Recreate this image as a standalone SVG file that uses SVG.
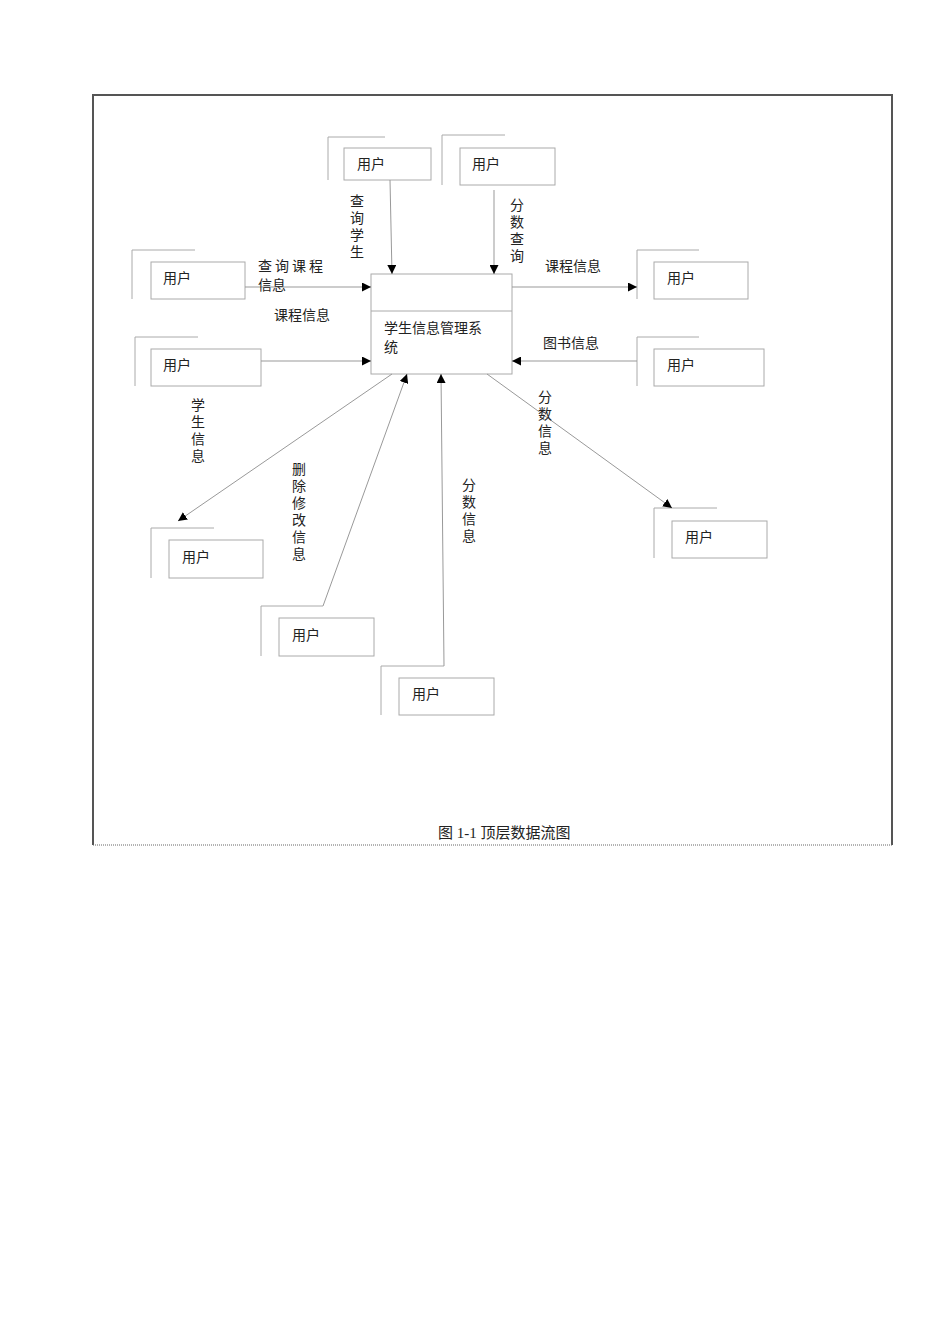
<svg xmlns="http://www.w3.org/2000/svg" width="950" height="1344" viewBox="0 0 950 1344">
<style>
.b{fill:#fff;stroke:#aaa;stroke-width:1}
.k{fill:none;stroke:#aaa;stroke-width:1}
.c{fill:none;stroke:#999;stroke-width:1;marker-end:url(#a)}
text{font-family:"Noto Sans CJK SC","Liberation Sans",sans-serif;font-size:14px;fill:#222}
.v{writing-mode:tb;letter-spacing:3px}
</style>
<defs><marker id="a" viewBox="0 0 10 10" refX="10" refY="5" markerWidth="9" markerHeight="9" markerUnits="userSpaceOnUse" orient="auto"><path d="M0 0L10 5L0 10z" fill="#000"/></marker></defs>
<rect width="950" height="1344" fill="#fff"/>
<path d="M93 845V95H892V845" fill="none" stroke="#555" stroke-width="2"/>
<line x1="93" y1="845" x2="892" y2="845" stroke="#666" stroke-dasharray="1,1"/>
<g id="sys"><rect class="b" x="371" y="274" width="141" height="100"/><line class="k" x1="371" y1="311" x2="512" y2="311"/><text x="384" y="333">学生信息管理系</text><text x="384" y="352">统</text></g>
<g id="u1"><path class="k" d="M328 180V137H385"/><rect class="b" x="344" y="148" width="87" height="32"/><text x="357" y="169">用户</text></g>
<g id="u2"><path class="k" d="M442 185V135H505"/><rect class="b" x="460" y="148" width="95" height="37"/><text x="472" y="169">用户</text></g>
<g id="u3"><path class="k" d="M132 299V250H195"/><rect class="b" x="151" y="262" width="94" height="37"/><text x="163" y="283">用户</text></g>
<g id="u4"><path class="k" d="M135 386V337H198"/><rect class="b" x="151" y="349" width="110" height="37"/><text x="163" y="370">用户</text></g>
<g id="u5"><path class="k" d="M637 299V250H699"/><rect class="b" x="654" y="262" width="94" height="37"/><text x="667" y="283">用户</text></g>
<g id="u6"><path class="k" d="M637 386V337H699"/><rect class="b" x="654" y="349" width="110" height="37"/><text x="667" y="370">用户</text></g>
<g id="u7"><path class="k" d="M654 558V508H717"/><rect class="b" x="672" y="521" width="95" height="37"/><text x="685" y="542">用户</text></g>
<g id="u8"><path class="k" d="M151 578V528H214"/><rect class="b" x="169" y="540" width="94" height="38"/><text x="182" y="562">用户</text></g>
<g id="u9"><path class="k" d="M261 656V606H323"/><rect class="b" x="279" y="618" width="95" height="38"/><text x="292" y="640">用户</text></g>
<g id="u10"><path class="k" d="M381 715V666H444"/><rect class="b" x="399" y="678" width="95" height="37"/><text x="412" y="699">用户</text></g>
<g id="conn">
<path class="c" d="M390 180L392 274"/>
<path class="c" d="M494 190V274"/>
<path class="c" d="M245 287H371"/>
<path class="c" d="M261 361H371"/>
<path class="c" d="M512 287H637"/>
<path class="c" d="M637 361H512"/>
<path class="c" d="M392 374L178 521"/>
<path class="c" d="M323 606L407 374"/>
<path class="c" d="M444 666L441 374"/>
<path class="c" d="M487 374L672 508"/>
</g>
<g id="labels">
<text class="v" x="357" y="194">查询学生</text>
<text class="v" x="517" y="198">分数查询</text>
<text x="258" y="271" letter-spacing="3">查询课程</text><text x="258" y="290">信息</text>
<text x="274" y="320">课程信息</text>
<text x="545" y="271">课程信息</text>
<text x="543" y="348">图书信息</text>
<text class="v" x="198" y="398">学生信息</text>
<text class="v" x="299" y="462">删除修改信息</text>
<text class="v" x="469" y="478">分数信息</text>
<text class="v" x="545" y="390">分数信息</text>
<text x="438" y="838" style="font-family:'Liberation Serif','Noto Sans CJK SC',serif;font-size:15px">图 1-1 顶层数据流图</text>
</g>
</svg>
